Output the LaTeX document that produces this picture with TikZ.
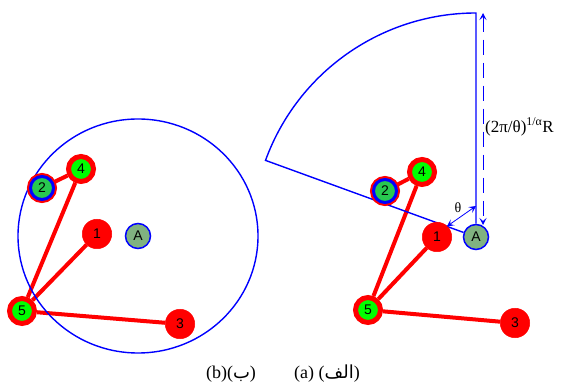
\documentclass[tikz,border=0pt]{standalone}
\usepackage{fontspec}
\setmainfont{Liberation Serif}
\newfontfamily\nodefont{Liberation Sans}
\newfontfamily\arabicfont[Script=Arabic]{DejaVu Sans}
\TeXXeTstate=1
\usepackage{tikz}
\usetikzlibrary{arrows.meta,backgrounds}
\definecolor{relayGreen}{RGB}{0,255,0}
\definecolor{hybridGreen}{RGB}{40,200,80}
\definecolor{apGreen}{RGB}{128,178,128}

\begin{document}
\begin{tikzpicture}[
  x=1pt, y=1pt,
  vertex/.style={circle, draw=red, fill=red, line width=0.5pt, minimum size=29.5pt,
    inner sep=0pt, font=\nodefont\fontsize{14}{14}\selectfont},
  relay/.style={vertex, fill=relayGreen, line width=5pt, minimum size=25pt},
  hybrid/.style={vertex, fill=hybridGreen, draw=blue, line width=3pt, minimum size=23pt,
    preaction={draw=red, line width=7pt}},
  ap/.style={vertex, draw=blue, fill=apGreen, line width=1.5pt, minimum size=25pt},
  link/.style={red, line width=4pt},
  region/.style={blue, line width=1.4pt},
  dim/.style={blue, line width=1pt, {Stealth[length=7pt,width=7pt,inset=3pt]}-{Stealth[length=7pt,width=7pt,inset=3pt]}},
  lbl/.style={font=\fontsize{14}{14}\selectfont, inner sep=1pt},
  subcap/.style={font=\fontsize{18}{18}\selectfont},
]
  \useasboundingbox (0,0) rectangle (561,385);

  % (b) left panel
  \node[ap] (AL) at (138,149) {A};
  \node[vertex] (n1L) at (97,151) {1};
  \node[hybrid] (n2L) at (42,197) {2};
  \node[vertex] (n3L) at (180,61) {3};
  \node[relay] (n4L) at (81,216) {4};
  \node[relay] (n5L) at (22,74) {5};

  % (a) right panel
  \node[ap] (AR) at (476,148) {A};
  \node[vertex] (n1R) at (437,148) {1};
  \node[hybrid] (n2R) at (385,194) {2};
  \node[vertex] (n3R) at (515,62) {3};
  \node[relay] (n4R) at (422,213) {4};
  \node[relay] (n5R) at (368,75) {5};

  % Links
  \begin{scope}[on background layer]
    \draw[link] (n2L) -- (n4L);
    \draw[link] (n4L) -- (n5L);
    \draw[link] (n1L) -- (n5L);
    \draw[link] (n5L) -- (n3L);
    \draw[link] (n2R) -- (n4R);
    \draw[link] (n4R) -- (n5R);
    \draw[link] (n1R) -- (n5R);
    \draw[link] (n5R) -- (n3R);

    % Coverage
    \draw[region] (AL) ellipse [x radius=120, y radius=117];
    \draw[region] (AR) -- ++(0,224) arc[start angle=90, end angle=160, radius=224] -- (AR);
  \end{scope}

  % Sector angle and range
  \path (AR) ++(90:31) coordinate (th1);
  \path (AR) ++(160:31) coordinate (th2);
  \draw[dim, line width=0.8pt] (th1) -- (th2);
  \node[lbl] (theta) at (458,177) {θ};

  \coordinate (rtop) at (483,372);
  \coordinate (rbot) at (483,160);
  \draw[dim, dash pattern=on 15pt off 8pt] (rtop) -- (rbot);
  \node[lbl, anchor=west, font=\fontsize{17}{17}\selectfont] (range) at (484,258)
    {(2π/θ)\textsuperscript{1/α}R};

  % Captions
  \node[subcap] (capb) at (231,11) {(b)({\arabicfont\beginR ب\endR})};
  \node[subcap] (capa) at (327,11) {(a) ({\arabicfont\beginR الف\endR})};
\end{tikzpicture}
\end{document}
